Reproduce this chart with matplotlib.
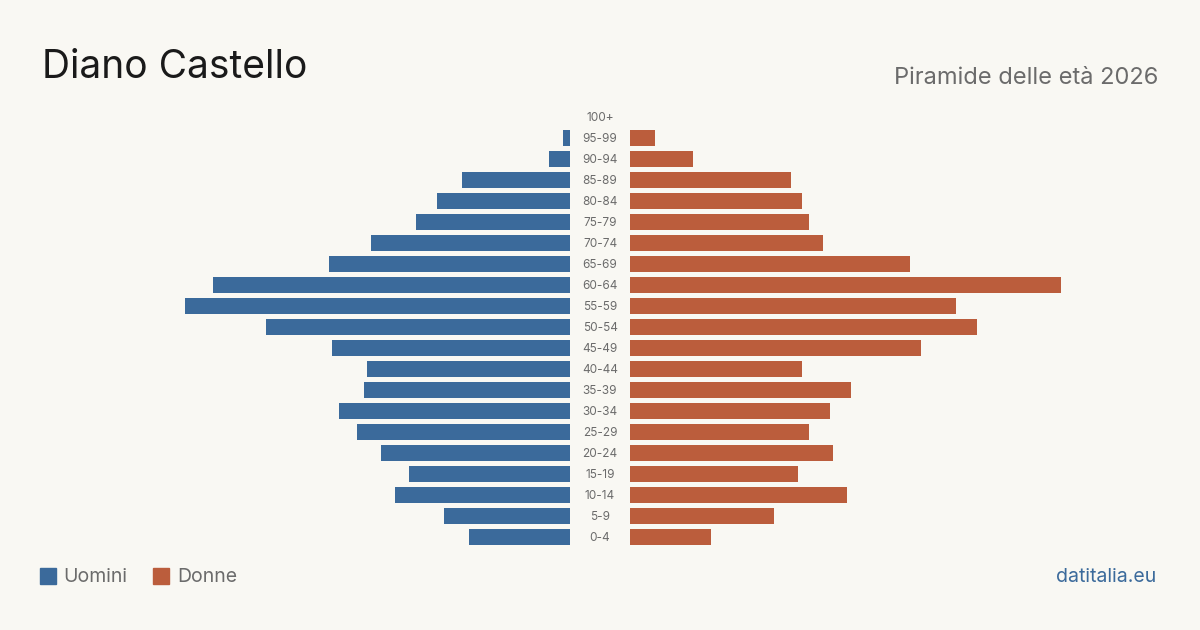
import matplotlib
matplotlib.use("Agg")
import matplotlib.pyplot as plt
from matplotlib.patches import Rectangle

plt.rcParams['font.family'] = ['Inter', 'DejaVu Sans']

ages = ['100+', '95-99', '90-94', '85-89', '80-84', '75-79', '70-74', '65-69',
        '60-64', '55-59', '50-54', '45-49', '40-44', '35-39', '30-34', '25-29',
        '20-24', '15-19', '10-14', '5-9', '0-4']
uomini = [0, 2, 6, 31, 38, 44, 57, 69, 102, 110, 87, 68, 58, 59, 66, 61, 54, 46, 50, 36, 29]
donne = [0, 7, 18, 46, 49, 51, 55, 80, 123, 93, 99, 83, 49, 63, 57, 51, 58, 48, 62, 41, 23]

BG = '#f9f8f3'
BLUE = '#3b6a9b'
ORANGE = '#bb5d3c'
GRAY = '#6b6b6b'

W, H = 1200, 630
fig = plt.figure(figsize=(W / 100, H / 100), dpi=100, facecolor=BG)

px = 3.5  # pixels per person
top_px, bot_px = 106.5, 547.5
y0 = 1 - bot_px / H
hh = (bot_px - top_px) / H

lmax, rmax = 120, 140
axl = fig.add_axes([(570 - lmax * px) / W, y0, lmax * px / W, hh])
axr = fig.add_axes([630 / W, y0, rmax * px / W, hh])

ypos = list(range(len(ages)))
for ax in (axl, axr):
    ax.set_facecolor('none')
    ax.set_ylim(len(ages) - 0.5, -0.5)
    ax.axis('off')

axl.barh(ypos, uomini, height=0.8, color=BLUE)
axl.set_xlim(lmax, 0)
axr.barh(ypos, donne, height=0.8, color=ORANGE)
axr.set_xlim(0, rmax)

for i, a in enumerate(ages):
    fig.text(600 / W, 1 - (top_px + 11.5 + i * 21) / H, a, ha='center', va='center',
             fontsize=8.5, color=GRAY)

fig.text(42 / W, 1 - 68 / H, 'Diano Castello', fontsize=28, color='#1a1a1a',
         ha='left', va='center')
fig.text(1158 / W, 1 - 78 / H, 'Piramide delle età 2026', fontsize=17, color=GRAY,
         ha='right', va='center')

fig.patches.append(Rectangle((40 / W, 1 - 584 / H), 16 / W, 16 / H, color=BLUE,
                             transform=fig.transFigure))
fig.text(63 / W, 1 - 577.5 / H, 'Uomini', fontsize=14, color=GRAY, ha='left', va='center')
fig.patches.append(Rectangle((153 / W, 1 - 584 / H), 16 / W, 16 / H, color=ORANGE,
                             transform=fig.transFigure))
fig.text(177 / W, 1 - 577.5 / H, 'Donne', fontsize=14, color=GRAY, ha='left', va='center')

fig.text(1156 / W, 1 - 577.5 / H, 'datitalia.eu', fontsize=14, color=BLUE,
         ha='right', va='center')

fig.savefig('out.png', dpi=100, facecolor=BG)
